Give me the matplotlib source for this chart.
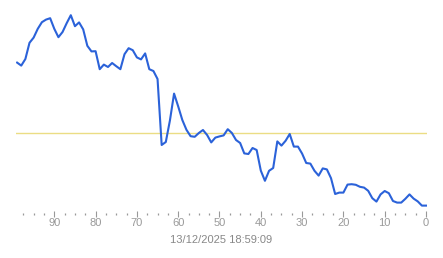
import matplotlib

matplotlib.use("Agg")
import matplotlib.pyplot as plt
import numpy as np
from matplotlib.ticker import MultipleLocator

plt.rcParams["font.family"] = ["Liberation Sans", "DejaVu Sans"]

# seconds ago, oldest first
seconds_ago = np.arange(99, -1, -1)
values = [
    73.7, 72.2, 75.5, 83.6, 86.2, 90.6, 93.9, 95.2, 95.9, 90.6,
    86.4, 89.0, 93.4, 97.4, 91.9, 93.8, 90.3, 82.1, 79.3, 79.4,
    70.4, 72.7, 71.5, 73.5, 71.9, 70.4, 77.9, 80.9, 79.9, 76.3,
    75.3, 78.3, 70.4, 69.5, 65.5, 32.5, 34.0, 44.8, 58.2, 51.8,
    45.0, 40.1, 36.9, 36.6, 38.5, 40.0, 37.5, 33.8, 36.2, 36.8,
    37.3, 40.4, 38.5, 35.0, 33.5, 28.3, 28.0, 31.0, 30.0, 19.7,
    14.6, 19.6, 21.0, 34.3, 32.2, 34.6, 38.0, 31.7, 31.7, 28.2,
    23.5, 23.2, 19.6, 17.2, 20.8, 20.3, 15.9, 8.0, 8.7, 8.7,
    12.7, 12.9, 12.6, 11.6, 11.2, 9.6, 5.9, 4.2, 7.8, 9.5,
    8.4, 4.5, 3.7, 3.7, 5.6, 7.8, 5.7, 4.3, 2.2, 2.2,
]
reference_level = 38.5
timestamp = "13/12/2025 18:59:09"

fig = plt.figure(figsize=(4.43, 2.58), dpi=100)
ax = fig.add_axes([16 / 443, 1 - 214 / 258, 411 / 443, 204 / 258])

ax.axhline(reference_level, color="#ebdd84", linewidth=1.0)
ax.plot(seconds_ago, values, color="#2b62d9", linewidth=1.5, solid_joinstyle="round")

ax.set_xlim(99.27, -0.24)
ax.set_ylim(-2, 100)

ax.xaxis.set_major_locator(MultipleLocator(10))
ax.xaxis.set_minor_locator(MultipleLocator(2.5))
ax.tick_params(axis="x", which="major", direction="inout", length=4, width=0.8,
               color="#999999", labelcolor="#999999", labelsize=8, pad=1)
ax.tick_params(axis="x", which="minor", direction="inout", length=1.2, width=0.9,
               color="#999999")
ax.set_yticks([])
for side in ["top", "right", "left", "bottom"]:
    ax.spines[side].set_visible(False)

ax.set_xlabel(timestamp, color="#888888", fontsize=8, labelpad=5)

fig.savefig("out.png", dpi=100)
